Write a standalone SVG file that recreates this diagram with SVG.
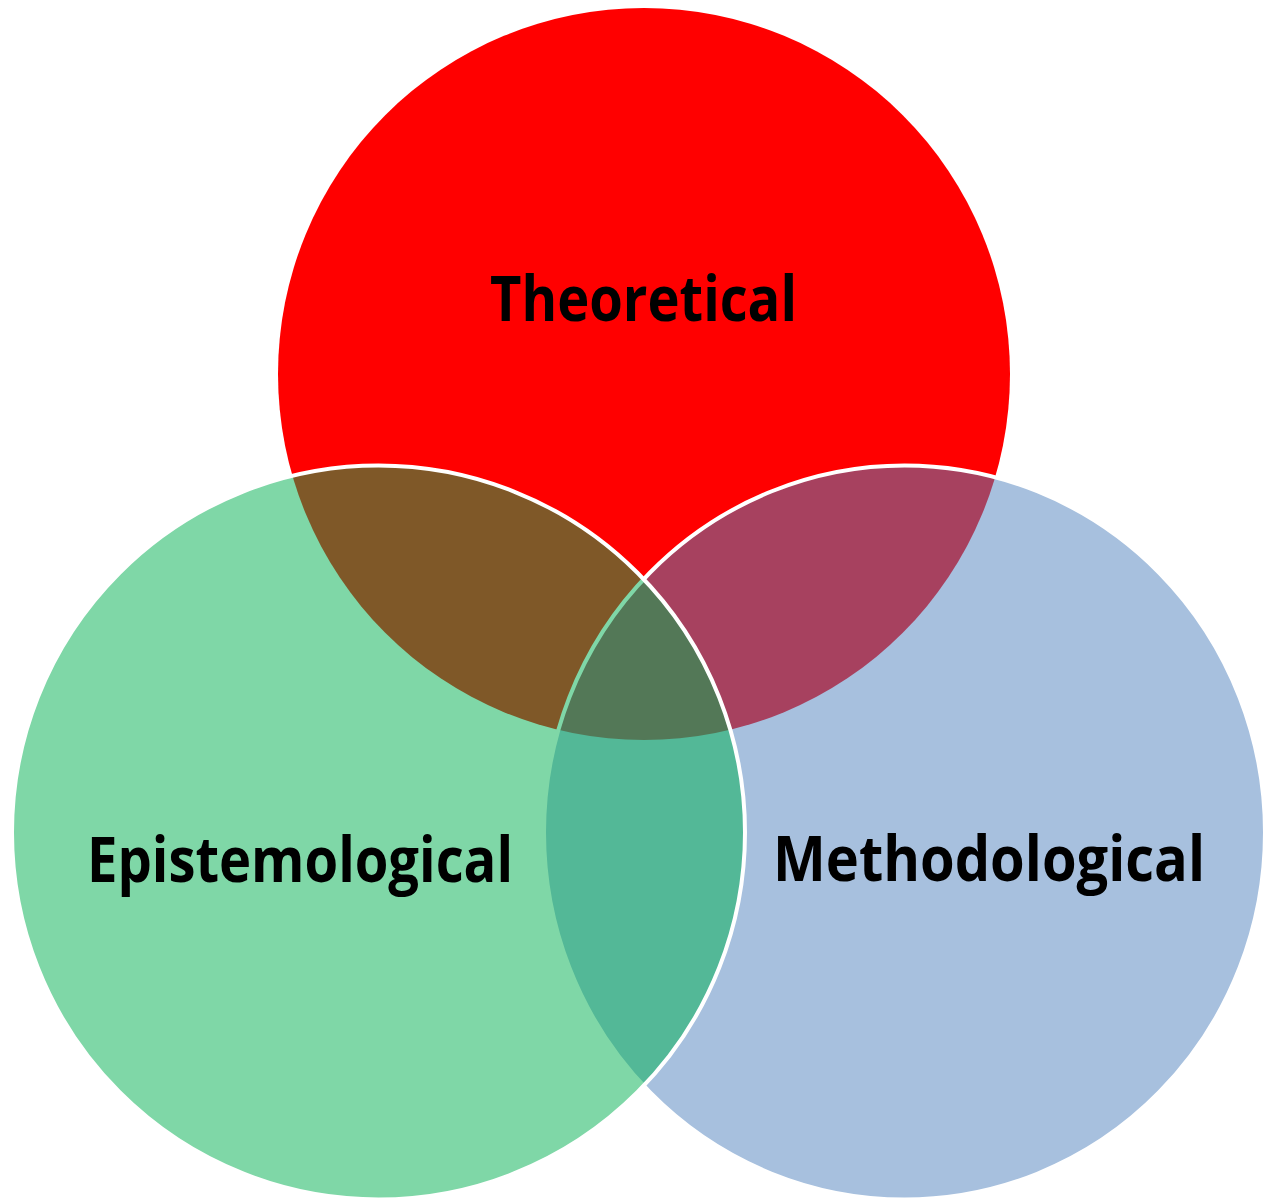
<svg xmlns="http://www.w3.org/2000/svg" width="1268" height="1201" viewBox="0 0 1268 1201">
  <style>
    .lbl { font-family: "Open Sans", "Liberation Sans", sans-serif; font-weight: bold; font-size: 62px; fill: #000000; }
    .set { stroke: #FFFFFF; stroke-width: 4; }
  </style>
  <rect x="0" y="0" width="1268" height="1201" fill="#FFFFFF"/>
  <g id="theoretical">
    <circle cx="644" cy="374" r="366" fill="#FF0000"/>
  </g>
  <g id="methodological">
    <ellipse class="set" cx="904.5" cy="832.5" rx="360.5" ry="367" fill="#4F81BD" fill-opacity="0.5"/>
  </g>
  <g id="epistemological">
    <ellipse class="set" cx="378.5" cy="832.5" rx="366.5" ry="367" fill="#00B050" fill-opacity="0.5"/>
  </g>
  <g id="labels">
    <text class="lbl" x="490" y="321" textLength="307" lengthAdjust="spacingAndGlyphs">Theoretical</text>
    <text class="lbl" x="87" y="882" textLength="426" lengthAdjust="spacingAndGlyphs">Epistemological</text>
    <text class="lbl" x="773" y="881" textLength="432" lengthAdjust="spacingAndGlyphs">Methodological</text>
  </g>
  <g id="connectors"></g>
</svg>
